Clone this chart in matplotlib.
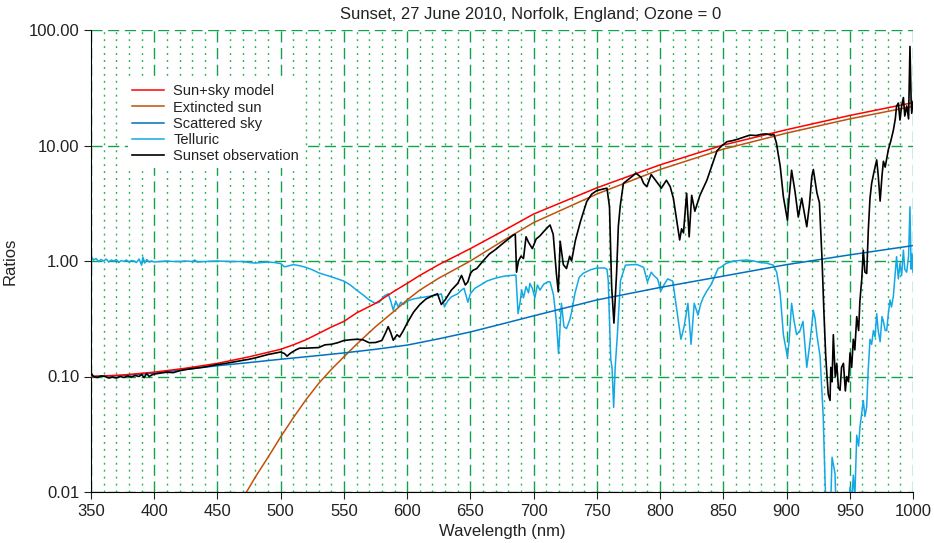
import matplotlib
matplotlib.use("Agg")
import matplotlib.pyplot as plt
from matplotlib.ticker import FixedLocator, FuncFormatter, NullLocator, MultipleLocator

plt.rcParams['font.family'] = ['Liberation Sans', 'DejaVu Sans']

# sun+sky model
model_wl = [350, 375, 400, 425, 450, 475, 500, 510, 520, 530, 540, 550, 560, 575, 590, 600, 610,
            625, 650, 675, 700, 750, 800, 850, 900, 950, 1000]
model_val = [0.100, 0.103, 0.109, 0.118, 0.130, 0.148, 0.172, 0.188, 0.208, 0.236, 0.268, 0.30,
             0.355, 0.43, 0.55, 0.64, 0.75, 0.93, 1.28, 1.80, 2.55, 4.3, 6.8, 10.1, 13.7, 18.2,
             23.5]

# extincted sun
ext_wl = [460, 473, 480, 490, 500, 510, 520, 530, 540, 550, 560, 575, 590, 600, 610, 625, 650,
          675, 700, 750, 800, 850, 900, 950, 1000]
ext_val = [0.0055, 0.010, 0.0135, 0.020, 0.030, 0.044, 0.063, 0.087, 0.115, 0.148, 0.19, 0.27,
           0.37, 0.46, 0.56, 0.71, 1.00, 1.48, 2.15, 3.8, 6.2, 9.3, 12.8, 17.0, 21.8]

# scattered sky
sky_wl = [350, 375, 400, 425, 450, 475, 500, 525, 550, 575, 600, 625, 650, 675, 700,
          750, 800, 850, 900, 950, 1000]
sky_val = [0.100, 0.102, 0.107, 0.115, 0.124, 0.132, 0.141, 0.150, 0.160, 0.172, 0.187, 0.212,
           0.243, 0.285, 0.335, 0.46, 0.59, 0.74, 0.93, 1.13, 1.36]

# telluric
tel_wl = [350, 350.5, 352, 354, 356, 358, 360, 362, 364, 366, 368, 370, 372, 374, 376, 378, 380,
          382, 384, 386, 388, 390, 391, 392.5, 394, 396, 398, 400, 405, 410, 415, 420, 425, 430,
          432, 434, 440, 450, 460, 470, 475, 480, 485, 490, 495, 500, 503, 505, 510, 515, 520,
          525, 530, 535, 540, 545, 550, 555, 560, 565, 570, 575, 578, 582, 585, 587, 589, 591,
          593, 595, 597, 600, 605, 610, 615, 620, 625, 627, 629.5, 632, 635, 640, 643, 645, 648,
          650, 653.5, 658, 663, 668, 672, 677, 682, 686, 687.7, 689.2, 690.5, 692, 694, 696, 697,
          699, 701, 703, 705, 708, 711, 713, 715.7, 718, 719.7, 721, 722, 724, 726, 728.6, 730,
          732.6, 736, 739, 745, 750, 756, 758, 759, 761, 762, 763.3, 764.5, 766, 768.7, 772.6,
          778, 782, 787, 790, 793, 795, 798, 800.6, 803, 806, 810, 812.5, 815, 816.5, 819, 822,
          824.5, 827, 830, 832, 834, 837, 840.6, 845.8, 848.5, 852, 858, 863, 868.5, 874, 879,
          884, 889.6, 892.2, 895, 897.5, 900.7, 902, 904, 906, 908, 910.7, 913, 916, 918.6,
          921.2, 922.5, 924, 926.5, 929, 930.5, 931.8, 934.4, 936, 938.3, 939.7, 942, 948,
          950.2, 951.5, 952.8, 954, 955.5, 957, 958, 960.7, 962, 963.4, 964.5, 966, 967.3,
          968.7, 970, 971.3, 972.5, 974, 975.5, 976.6, 978, 979.2, 980.5, 981.8, 983, 984.5,
          986, 987, 988.4, 989.7, 991, 992.4, 993.5, 995, 996.5, 997.6, 998.5, 999.3, 1000]
tel_val = [0.70, 1.08, 1.02, 1.05, 0.99, 1.03, 1.00, 1.04, 0.98, 1.02, 1.00, 1.03, 0.97, 1.01,
           0.99, 1.02, 0.98, 1.01, 1.00, 0.97, 1.04, 0.92, 1.08, 0.96, 1.03, 0.98, 1.00, 0.98,
           0.99, 1.00, 0.99, 0.99, 1.00, 0.99, 1.02, 0.98, 0.99, 1.00, 0.99, 0.99, 0.97, 0.96,
           0.97, 0.98, 0.97, 0.95, 0.89, 0.90, 0.93, 0.91, 0.88, 0.84, 0.79, 0.76, 0.73, 0.70,
           0.67, 0.62, 0.56, 0.51, 0.46, 0.43, 0.44, 0.50, 0.52, 0.45, 0.375, 0.45, 0.40, 0.44,
           0.42, 0.45, 0.47, 0.48, 0.49, 0.50, 0.51, 0.52, 0.40, 0.45, 0.49, 0.52, 0.56, 0.58,
           0.44, 0.52, 0.58, 0.62, 0.67, 0.70, 0.72, 0.74, 0.75, 0.755, 0.35, 0.43, 0.56, 0.48,
           0.60, 0.53, 0.64, 0.58, 0.48, 0.62, 0.56, 0.63, 0.66, 0.66, 0.51, 0.30, 0.158, 0.28,
           0.43, 0.27, 0.26, 0.31, 0.36, 0.52, 0.72, 0.78, 0.84, 0.87, 0.87, 0.85, 0.68, 0.14,
           0.12, 0.054, 0.12, 0.21, 0.68, 0.92, 0.93, 0.93, 0.88, 0.66, 0.80, 0.75, 0.70, 0.55,
           0.62, 0.70, 0.67, 0.43, 0.28, 0.21, 0.27, 0.43, 0.19, 0.43, 0.34, 0.42, 0.48, 0.55,
           0.63, 0.86, 0.89, 0.95, 1.00, 1.01, 1.02, 1.00, 0.97, 0.96, 0.92, 0.80, 0.52, 0.23,
           0.148, 0.20, 0.43, 0.30, 0.23, 0.25, 0.30, 0.12, 0.20, 0.375, 0.32, 0.23, 0.15,
           0.045, 0.012, 0.005, 0.005, 0.020, 0.0145, 0.005, 0.005, 0.005, 0.011, 0.008, 0.014,
           0.009, 0.031, 0.025, 0.036, 0.062, 0.045, 0.055, 0.11, 0.21, 0.19, 0.25, 0.22, 0.35,
           0.25, 0.20, 0.33, 0.30, 0.25, 0.25, 0.35, 0.46, 0.40, 0.50, 0.80, 1.09, 0.70, 0.95,
           0.75, 1.24, 0.85, 0.80, 1.10, 2.95, 0.85, 1.15, 0.80]

# sunset observation
obs_wl = [350, 352, 355, 358, 361, 364, 367, 370, 373, 376, 379, 382, 385, 388, 390, 392, 394,
          396, 398, 400, 405, 410, 415, 420, 425, 430, 435, 440, 445, 450, 455, 460, 465, 470,
          475, 480, 485, 490, 495, 500, 503, 505, 508, 512, 515, 520, 525, 530, 535, 540, 545,
          550, 555, 560, 565, 570, 575, 580, 583, 585, 587, 589, 592, 594, 597, 600, 605, 610,
          615, 620, 624, 627, 630, 635, 640, 643, 646, 648, 650, 652, 655, 660, 665, 670, 675,
          680, 684, 685.5, 686.5, 688, 690, 692, 694, 696, 699, 702, 705, 708, 711, 713, 715.5,
          718, 719.5, 721, 723.5, 726, 728.5, 730, 733, 737, 742, 746, 750, 755, 758, 760,
          761.7, 763.5, 765.6, 767, 768.5, 771, 775, 781, 785, 787, 789.5, 793, 797, 801, 805,
          808, 810.5, 813, 815.5, 817, 818.5, 821, 823, 825, 827.5, 831.5, 837, 842, 845, 849,
          853, 857, 861, 866, 871, 876, 880, 884, 888, 890, 892, 895, 897.5, 900.7, 902, 904,
          906.7, 909.3, 912, 916, 918, 920, 921.2, 924, 926, 928, 929.6, 931, 932, 933, 934.4,
          935, 936, 937, 938.5, 939.7, 941, 942.3, 943.5, 945, 946.5, 947.6, 949, 950.2, 951.5,
          952.8, 954, 955.5, 957, 958, 959.5, 960.7, 962, 963.4, 964.7, 966, 967.3, 969, 971.3,
          972.5, 974, 975.5, 976.6, 978, 980.5, 982.5, 984.5, 986, 987, 988.4, 989.7, 991,
          992.4, 993.5, 995, 996.5, 997.6, 998.5, 999, 1000]
obs_val = [0.107, 0.100, 0.098, 0.101, 0.100, 0.097, 0.099, 0.097, 0.100, 0.098, 0.101, 0.099,
           0.102, 0.100, 0.104, 0.098, 0.106, 0.100, 0.103, 0.105, 0.107, 0.109, 0.108, 0.112,
           0.115, 0.117, 0.119, 0.121, 0.124, 0.127, 0.129, 0.132, 0.135, 0.138, 0.141, 0.145,
           0.150, 0.155, 0.159, 0.163, 0.158, 0.150, 0.160, 0.170, 0.176, 0.176, 0.177, 0.178,
           0.188, 0.190, 0.196, 0.205, 0.208, 0.210, 0.208, 0.196, 0.197, 0.205, 0.24, 0.27,
           0.24, 0.206, 0.23, 0.22, 0.25, 0.29, 0.36, 0.42, 0.47, 0.50, 0.52, 0.42, 0.46, 0.56,
           0.64, 0.75, 0.62, 0.66, 0.78, 0.83, 0.86, 1.00, 1.15, 1.26, 1.40, 1.55, 1.68, 1.70,
           0.80, 1.00, 1.10, 1.05, 1.62, 1.45, 1.28, 1.55, 1.65, 1.80, 1.95, 2.05, 1.70, 0.78,
           0.54, 1.48, 0.93, 0.86, 1.10, 1.00, 1.50, 2.19, 3.27, 3.8, 4.07, 4.2, 4.27, 2.95,
           0.60, 0.29, 0.78, 2.0, 3.0, 4.7, 5.1, 5.75, 5.3, 4.7, 4.4, 5.6, 4.9, 4.27, 5.0, 4.4,
           3.5, 2.3, 1.52, 1.9, 1.75, 3.86, 1.62, 3.7, 2.7, 3.7, 5.0, 7.2, 9.0, 10.0, 10.8, 11.0,
           11.3, 11.8, 12.3, 12.2, 12.5, 12.6, 12.3, 12.5, 10.5, 6.6, 3.6, 2.26, 3.5, 6.1, 4.0,
           2.4, 3.5, 1.98, 3.0, 5.4, 6.2, 3.9, 3.2, 1.08, 0.35, 0.15, 0.10, 0.07, 0.062, 0.12,
           0.09, 0.23, 0.10, 0.13, 0.08, 0.076, 0.12, 0.13, 0.075, 0.10, 0.09, 0.16, 0.12, 0.21,
           0.17, 0.33, 0.25, 0.45, 0.70, 1.24, 0.80, 0.78, 1.9, 3.5, 4.7, 5.8, 7.5, 5.5, 3.3,
           5.5, 7.3, 6.5, 9.2, 11.0, 13.6, 17.0, 21.9, 23.3, 16.6, 22.0, 26.0, 18.0, 22.0, 17.0,
           72.0, 25.0, 19.0, 24.0]

fig = plt.figure(figsize=(9.34, 5.43), dpi=100)
ax = fig.add_axes([91 / 934, 1 - 492 / 543, 822 / 934, 462 / 543])

green = '#12a24a'
ax.plot(model_wl, model_val, color='#ff0000', lw=1.1, label='Sun+sky model', zorder=4)
ax.plot(ext_wl, ext_val, color='#c0500e', lw=1.1, label='Extincted sun', zorder=3)
ax.plot(sky_wl, sky_val, color='#0070c0', lw=1.1, label='Scattered sky', zorder=3)
ax.plot(tel_wl, tel_val, color='#12a8e6', lw=1.1, label='Telluric', zorder=2)
ax.plot(obs_wl, obs_val, color='black', lw=1.2, label='Sunset observation', zorder=5)

ax.set_yscale('log')
ax.set_xlim(350, 1000)
ax.set_ylim(0.01, 100)
ax.xaxis.set_major_locator(MultipleLocator(50))
ax.xaxis.set_minor_locator(MultipleLocator(10))
ax.yaxis.set_major_locator(FixedLocator([0.01, 0.1, 1, 10, 100]))
ax.yaxis.set_minor_locator(NullLocator())
ax.yaxis.set_major_formatter(FuncFormatter(lambda v, p: '%.2f' % v))

ax.grid(which='major', color=green, linestyle=(0, (8, 4)), linewidth=1.0)
ax.grid(which='minor', axis='x', color='#2bb05a', linestyle=(0, (1.4, 3.6)), linewidth=1.0)
ax.set_axisbelow(True)

for s in ['top', 'right']:
    ax.spines[s].set_visible(False)
ax.tick_params(which='major', direction='out', length=5, labelsize=12, colors='#222222')
ax.tick_params(which='minor', length=0)

ax.set_xlabel('Wavelength (nm)', fontsize=12, color='#222222', labelpad=4)
ax.set_ylabel('Ratios', fontsize=12, color='#222222', labelpad=8)
fig.text(531 / 934, 1 - 14 / 543, 'Sunset, 27 June 2010, Norfolk, England; Ozone = 0',
         ha='center', va='center', fontsize=12, color='#222222')

leg = ax.legend(loc='upper left', bbox_to_anchor=(128 / 934, 1 - 80 / 543),
                bbox_transform=fig.transFigure, fontsize=10.5, frameon=True, fancybox=False,
                edgecolor='none', facecolor='white', framealpha=1, handlelength=2.2,
                handletextpad=0.6, labelspacing=0.15, borderpad=0.3, borderaxespad=0)
for t in leg.get_texts():
    t.set_color('#222222')

fig.savefig('out.png', dpi=100)
